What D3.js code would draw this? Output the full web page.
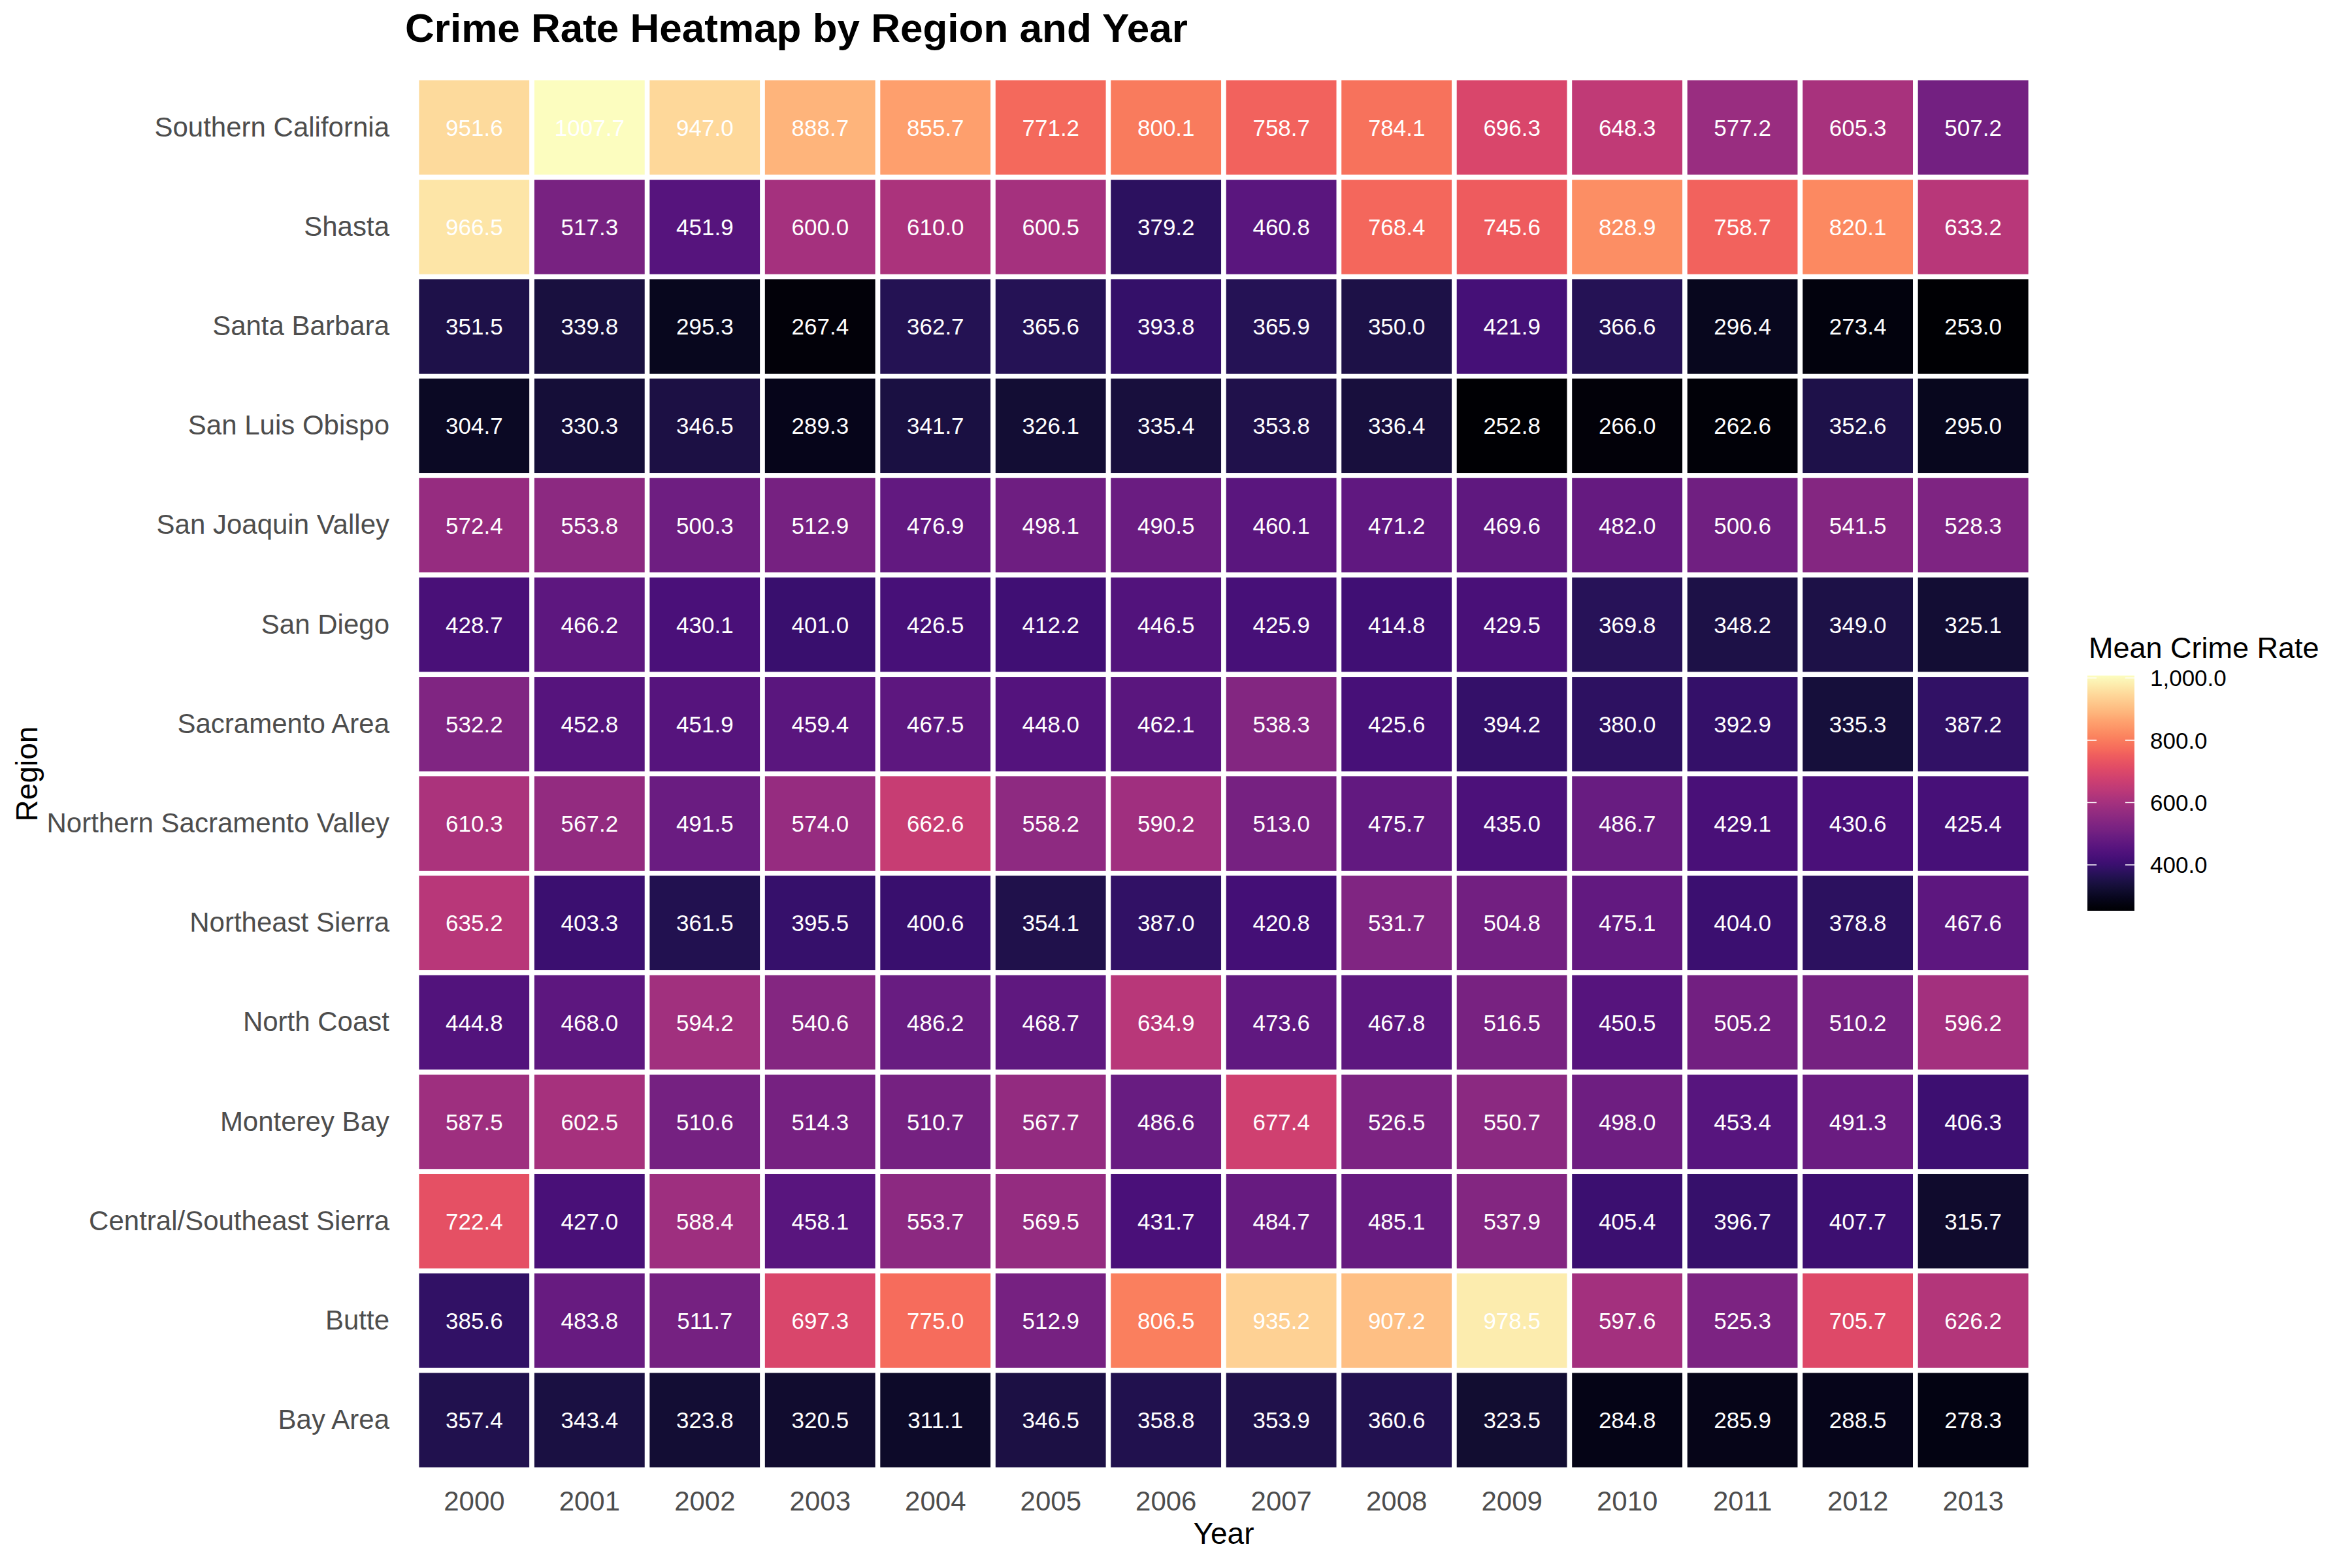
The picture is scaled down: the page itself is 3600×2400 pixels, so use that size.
<!DOCTYPE html>
<html>
<head>
<meta charset="utf-8">
<script src="https://cdn.jsdelivr.net/npm/d3@7"></script>
<style>
  html, body { margin: 0; padding: 0; background: #ffffff; }
  svg { display: block; font-family: "Liberation Sans", Arial, Helvetica, sans-serif; }
</style>
</head>
<body>
<svg id="chart" width="3600" height="2400"></svg>
<script>
// ---------------- DATA ----------------
const years = ["2000","2001","2002","2003","2004","2005","2006","2007","2008","2009","2010","2011","2012","2013"];
// regions from top to bottom
const regions = ["Southern California","Shasta","Santa Barbara","San Luis Obispo","San Joaquin Valley","San Diego",
  "Sacramento Area","Northern Sacramento Valley","Northeast Sierra","North Coast","Monterey Bay",
  "Central/Southeast Sierra","Butte","Bay Area"];

const southernCalifornia = [951.6,1007.7,947.0,888.7,855.7,771.2,800.1,758.7,784.1,696.3,648.3,577.2,605.3,507.2];
const shasta = [966.5,517.3,451.9,600.0,610.0,600.5,379.2,460.8,768.4,745.6,828.9,758.7,820.1,633.2];
const santaBarbara = [351.5,339.8,295.3,267.4,362.7,365.6,393.8,365.9,350.0,421.9,366.6,296.4,273.4,253.0];
const sanLuisObispo = [304.7,330.3,346.5,289.3,341.7,326.1,335.4,353.8,336.4,252.8,266.0,262.6,352.6,295.0];
const sanJoaquinValley = [572.4,553.8,500.3,512.9,476.9,498.1,490.5,460.1,471.2,469.6,482.0,500.6,541.5,528.3];
const sanDiego = [428.7,466.2,430.1,401.0,426.5,412.2,446.5,425.9,414.8,429.5,369.8,348.2,349.0,325.1];
const sacramentoArea = [532.2,452.8,451.9,459.4,467.5,448.0,462.1,538.3,425.6,394.2,380.0,392.9,335.3,387.2];
const northernSacramentoValley = [610.3,567.2,491.5,574.0,662.6,558.2,590.2,513.0,475.7,435.0,486.7,429.1,430.6,425.4];
const northeastSierra = [635.2,403.3,361.5,395.5,400.6,354.1,387.0,420.8,531.7,504.8,475.1,404.0,378.8,467.6];
const northCoast = [444.8,468.0,594.2,540.6,486.2,468.7,634.9,473.6,467.8,516.5,450.5,505.2,510.2,596.2];
const montereyBay = [587.5,602.5,510.6,514.3,510.7,567.7,486.6,677.4,526.5,550.7,498.0,453.4,491.3,406.3];
const centralSoutheastSierra = [722.4,427.0,588.4,458.1,553.7,569.5,431.7,484.7,485.1,537.9,405.4,396.7,407.7,315.7];
const butte = [385.6,483.8,511.7,697.3,775.0,512.9,806.5,935.2,907.2,978.5,597.6,525.3,705.7,626.2];
const bayArea = [357.4,343.4,323.8,320.5,311.1,346.5,358.8,353.9,360.6,323.5,284.8,285.9,288.5,278.3];

const legendTicks = [400, 600, 800, 1000];

// build table
const series = [southernCalifornia, shasta, santaBarbara, sanLuisObispo, sanJoaquinValley, sanDiego,
  sacramentoArea, northernSacramentoValley, northeastSierra, northCoast, montereyBay,
  centralSoutheastSierra, butte, bayArea];
const cells = [];
regions.forEach((r, i) => years.forEach((y, j) => cells.push({region: r, year: y, value: series[i][j]})));

// ---------------- LAYOUT ----------------
const svg = d3.select("#chart");
const panel = {left: 620, right: 3126, top: 104, bottom: 2265};
const font = '"Liberation Sans", Arial, Helvetica, sans-serif';

const x = d3.scaleBand().domain(years).range([panel.left, panel.right]).paddingInner(0).paddingOuter(0.1);
const y = d3.scaleBand().domain(regions).range([panel.top, panel.bottom]).paddingInner(0).paddingOuter(0.1);

const extent = d3.extent(cells, d => d.value);
const color = d3.scaleSequential(d3.interpolateMagma).domain(extent);

// tiles
svg.append("g").selectAll("rect").data(cells).join("rect")
  .attr("x", d => x(d.year))
  .attr("y", d => y(d.region))
  .attr("width", x.bandwidth())
  .attr("height", y.bandwidth())
  .attr("fill", d => color(d.value))
  .attr("stroke", "#ffffff")
  .attr("stroke-width", 7.5);

// values
const fmtCell = d3.format(".1f");
svg.append("g").selectAll("text").data(cells).join("text")
  .attr("x", d => x(d.year) + x.bandwidth() / 2)
  .attr("y", d => y(d.region) + y.bandwidth() / 2)
  .attr("dy", "0.36em")
  .attr("text-anchor", "middle")
  .attr("fill", "#ffffff")
  .attr("font-size", 35)
  .text(d => fmtCell(d.value));

// axes
const yAxis = svg.append("g").attr("transform", `translate(${panel.left},0)`)
  .call(d3.axisLeft(y).tickSize(0).tickPadding(24));
yAxis.select(".domain").remove();
yAxis.selectAll("text").attr("font-size", 42).attr("fill", "#4d4d4d").attr("font-family", font);

const xAxis = svg.append("g").attr("transform", `translate(0,${panel.bottom})`)
  .call(d3.axisBottom(x).tickSize(0).tickPadding(17));
xAxis.select(".domain").remove();
xAxis.selectAll("text").attr("font-size", 42).attr("fill", "#4d4d4d").attr("font-family", font);

// axis titles
svg.append("text")
  .attr("x", (panel.left + panel.right) / 2).attr("y", 2363)
  .attr("text-anchor", "middle").attr("font-size", 46).attr("fill", "#000")
  .text("Year");
svg.append("text")
  .attr("transform", `translate(57,${(panel.top + panel.bottom) / 2}) rotate(-90)`)
  .attr("text-anchor", "middle").attr("font-size", 46).attr("fill", "#000")
  .text("Region");

// title
svg.append("text")
  .attr("x", panel.left).attr("y", 64)
  .attr("font-size", 62).attr("font-weight", "bold").attr("fill", "#000")
  .text("Crime Rate Heatmap by Region and Year");

// ---------------- LEGEND ----------------
const lg = {x: 3195, w: 72, top: 1034, bottom: 1394};
const ly = d3.scaleLinear().domain(extent).range([lg.bottom, lg.top]);
const defs = svg.append("defs");
const grad = defs.append("linearGradient").attr("id", "lgrad")
  .attr("x1", 0).attr("y1", 1).attr("x2", 0).attr("y2", 0);
d3.range(0, 1.0001, 0.02).forEach(t => {
  grad.append("stop").attr("offset", t).attr("stop-color", d3.interpolateMagma(t));
});
svg.append("rect").attr("x", lg.x).attr("y", lg.top).attr("width", lg.w).attr("height", lg.bottom - lg.top)
  .attr("fill", "url(#lgrad)");

const lt = svg.append("g");
legendTicks.forEach(v => {
  const yy = ly(v);
  lt.append("line").attr("x1", lg.x).attr("x2", lg.x + 14).attr("y1", yy).attr("y2", yy)
    .attr("stroke", "#fff").attr("stroke-width", 1.5);
  lt.append("line").attr("x1", lg.x + lg.w - 14).attr("x2", lg.x + lg.w).attr("y1", yy).attr("y2", yy)
    .attr("stroke", "#fff").attr("stroke-width", 1.5);
  lt.append("text").attr("x", 3291).attr("y", yy).attr("dy", "0.36em")
    .attr("font-size", 35).attr("fill", "#000").text(d3.format(",.1f")(v));
});
svg.append("text").attr("x", 3197).attr("y", 1007)
  .attr("font-size", 45).attr("fill", "#000").text("Mean Crime Rate");
</script>
</body>
</html>
